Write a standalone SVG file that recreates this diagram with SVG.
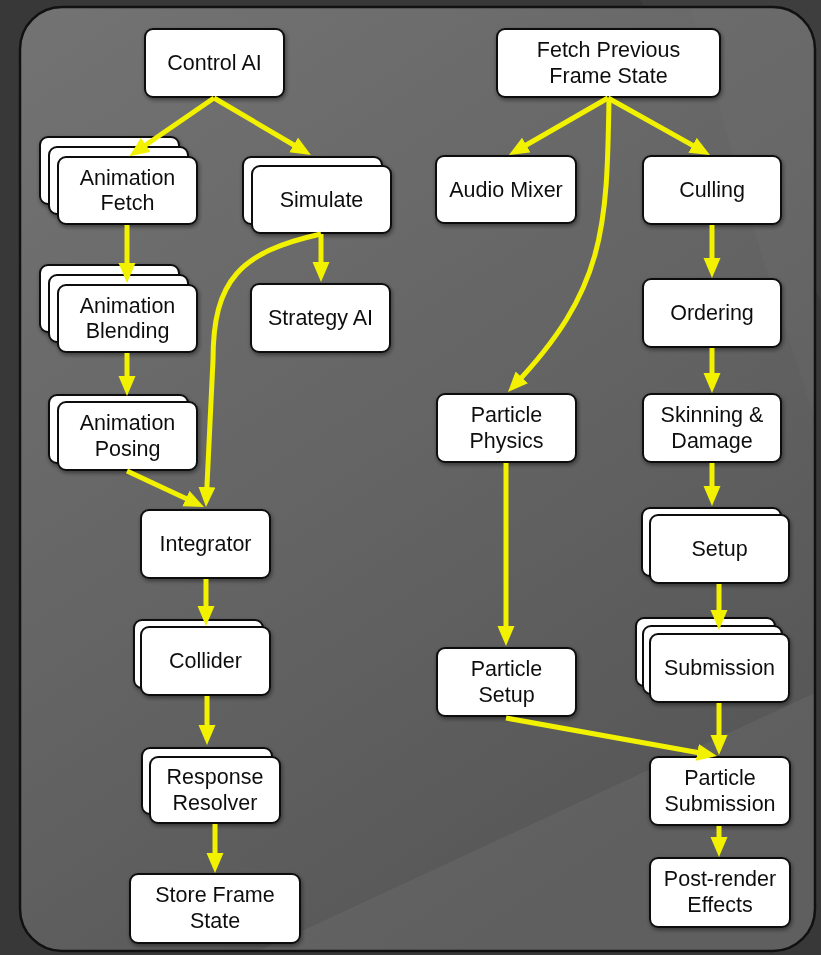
<svg xmlns="http://www.w3.org/2000/svg" width="821" height="955" viewBox="0 0 821 955">
<defs>
<linearGradient id="bg" x1="0" y1="0" x2="0.55" y2="1">
<stop offset="0" stop-color="#737373"/>
<stop offset="0.6" stop-color="#636363"/>
<stop offset="1" stop-color="#575757"/>
</linearGradient>
<clipPath id="frameClip"><rect x="20" y="7" width="795" height="944" rx="42"/></clipPath>
<filter id="sh" x="-10%" y="-10%" width="125%" height="130%">
<feDropShadow dx="1" dy="2" stdDeviation="2" flood-color="#000" flood-opacity="0.45"/>
</filter>
<marker id="ah" markerUnits="userSpaceOnUse" markerWidth="22" markerHeight="18" refX="13" refY="8.5" orient="auto">
<path d="M0,0 L20,8.5 L0,17 z" fill="#f2f200"/>
</marker>
<style>
.box{fill:#fff;stroke:#111;stroke-width:2;}
.lbl{font-family:"Liberation Sans",Arial,sans-serif;font-size:21.5px;fill:#111;text-anchor:middle;}
.c{fill:none;stroke:#f2f200;stroke-width:5;marker-end:url(#ah);}
</style>
</defs>

<rect x="0" y="0" width="821" height="955" fill="#383838"/>
<polygon points="640,0 821,0 821,300" fill="#444" opacity="0.5"/>
<rect x="20" y="7" width="795" height="944" rx="42" fill="url(#bg)"/>
<g clip-path="url(#frameClip)">
<polygon points="250,955 821,690 821,955" fill="#fff" opacity="0.05"/>
<polygon points="690,7 815,7 815,420 760,250" fill="#fff" opacity="0.02"/>
</g>
<rect x="20" y="7" width="795" height="944" rx="42" fill="none" stroke="#111" stroke-width="2.5"/>

<g id="control-ai" filter="url(#sh)">
<rect class="box" x="145" y="29" width="139" height="68" rx="8"/>
<text class="lbl" x="214.5" y="70">Control AI</text>
</g>
<g id="fetch-previous-frame-state" filter="url(#sh)">
<rect class="box" x="497" y="29" width="223" height="68" rx="8"/>
<text class="lbl" x="608.5" y="57">Fetch Previous</text>
<text class="lbl" x="608.5" y="82.5">Frame State</text>
</g>
<g id="animation-fetch" filter="url(#sh)">
<rect class="box" x="40" y="137" width="139" height="67" rx="8"/>
<rect class="box" x="49" y="147" width="139" height="67" rx="8"/>
<rect class="box" x="58" y="157" width="139" height="67" rx="8"/>
<text class="lbl" x="127.5" y="184.5">Animation</text>
<text class="lbl" x="127.5" y="210">Fetch</text>
</g>
<g id="simulate" filter="url(#sh)">
<rect class="box" x="243" y="157" width="139" height="67" rx="8"/>
<rect class="box" x="252" y="166" width="139" height="67" rx="8"/>
<text class="lbl" x="321.5" y="207">Simulate</text>
</g>
<g id="strategy-ai" filter="url(#sh)">
<rect class="box" x="251" y="284" width="139" height="68" rx="8"/>
<text class="lbl" x="320.5" y="325">Strategy AI</text>
</g>
<g id="animation-blending" filter="url(#sh)">
<rect class="box" x="40" y="265" width="139" height="67" rx="8"/>
<rect class="box" x="49" y="275" width="139" height="67" rx="8"/>
<rect class="box" x="58" y="285" width="139" height="67" rx="8"/>
<text class="lbl" x="127.5" y="312.5">Animation</text>
<text class="lbl" x="127.5" y="338">Blending</text>
</g>
<g id="animation-posing" filter="url(#sh)">
<rect class="box" x="49" y="395" width="139" height="68" rx="8"/>
<rect class="box" x="58" y="402" width="139" height="68" rx="8"/>
<text class="lbl" x="127.5" y="430">Animation</text>
<text class="lbl" x="127.5" y="455.5">Posing</text>
</g>
<g id="integrator" filter="url(#sh)">
<rect class="box" x="141" y="510" width="129" height="68" rx="8"/>
<text class="lbl" x="205.5" y="551">Integrator</text>
</g>
<g id="collider" filter="url(#sh)">
<rect class="box" x="134" y="620" width="129" height="68" rx="8"/>
<rect class="box" x="141" y="627" width="129" height="68" rx="8"/>
<text class="lbl" x="205.5" y="668">Collider</text>
</g>
<g id="response-resolver" filter="url(#sh)">
<rect class="box" x="142" y="748" width="130" height="66" rx="8"/>
<rect class="box" x="150" y="757" width="130" height="66" rx="8"/>
<text class="lbl" x="215" y="784">Response</text>
<text class="lbl" x="215" y="809.5">Resolver</text>
</g>
<g id="store-frame-state" filter="url(#sh)">
<rect class="box" x="130" y="874" width="170" height="69" rx="8"/>
<text class="lbl" x="215" y="902">Store Frame</text>
<text class="lbl" x="215" y="927.5">State</text>
</g>
<g id="audio-mixer" filter="url(#sh)">
<rect class="box" x="436" y="156" width="140" height="67" rx="8"/>
<text class="lbl" x="506" y="197">Audio Mixer</text>
</g>
<g id="culling" filter="url(#sh)">
<rect class="box" x="643" y="156" width="138" height="68" rx="8"/>
<text class="lbl" x="712" y="197">Culling</text>
</g>
<g id="ordering" filter="url(#sh)">
<rect class="box" x="643" y="279" width="138" height="68" rx="8"/>
<text class="lbl" x="712" y="320">Ordering</text>
</g>
<g id="particle-physics" filter="url(#sh)">
<rect class="box" x="437" y="394" width="139" height="68" rx="8"/>
<text class="lbl" x="506.5" y="422">Particle</text>
<text class="lbl" x="506.5" y="447.5">Physics</text>
</g>
<g id="skinning-damage" filter="url(#sh)">
<rect class="box" x="643" y="394" width="138" height="68" rx="8"/>
<text class="lbl" x="712" y="422">Skinning &amp;</text>
<text class="lbl" x="712" y="447.5">Damage</text>
</g>
<g id="setup" filter="url(#sh)">
<rect class="box" x="642" y="508" width="139" height="68" rx="8"/>
<rect class="box" x="650" y="515" width="139" height="68" rx="8"/>
<text class="lbl" x="719.5" y="556">Setup</text>
</g>
<g id="submission" filter="url(#sh)">
<rect class="box" x="636" y="618" width="139" height="68" rx="8"/>
<rect class="box" x="643" y="626" width="139" height="68" rx="8"/>
<rect class="box" x="650" y="634" width="139" height="68" rx="8"/>
<text class="lbl" x="719.5" y="675">Submission</text>
</g>
<g id="particle-setup" filter="url(#sh)">
<rect class="box" x="437" y="648" width="139" height="68" rx="8"/>
<text class="lbl" x="506.5" y="676">Particle</text>
<text class="lbl" x="506.5" y="701.5">Setup</text>
</g>
<g id="particle-submission" filter="url(#sh)">
<rect class="box" x="650" y="757" width="140" height="68" rx="8"/>
<text class="lbl" x="720" y="785">Particle</text>
<text class="lbl" x="720" y="810.5">Submission</text>
</g>
<g id="post-render-effects" filter="url(#sh)">
<rect class="box" x="650" y="858" width="140" height="69" rx="8"/>
<text class="lbl" x="720" y="886">Post-render</text>
<text class="lbl" x="720" y="911.5">Effects</text>
</g>

<g id="connectors">
<path class="c" d="M214,98 L135.1,152.2"/>
<path class="c" d="M214,98 L304.9,151.5"/>
<path class="c" d="M127,225 L127,276"/>
<path class="c" d="M127,353 L127,389"/>
<path class="c" d="M127,471 L197.7,504.1"/>
<path class="c" d="M321,234 L321,275"/>
<path class="c" d="M321,234 C240,252 213,280 213,360 L206.3,500"/>
<path class="c" d="M206,579 L206,619"/>
<path class="c" d="M207,696 L207,738"/>
<path class="c" d="M215,824 L215,866"/>
<path class="c" d="M608,98 L515,151.5"/>
<path class="c" d="M608,98 L703.9,151.6"/>
<path class="c" d="M609,98 C607,230 605,290 512.8,386.9"/>
<path class="c" d="M712,225 L712,271"/>
<path class="c" d="M712,348 L712,386"/>
<path class="c" d="M712,463 L712,499"/>
<path class="c" d="M719,584 L719,623"/>
<path class="c" d="M719,703 L719,748"/>
<path class="c" d="M506,718 L710.1,754.7"/>
<path class="c" d="M506,463 L506,639"/>
<path class="c" d="M719,826 L719,850"/>
</g>
</svg>
